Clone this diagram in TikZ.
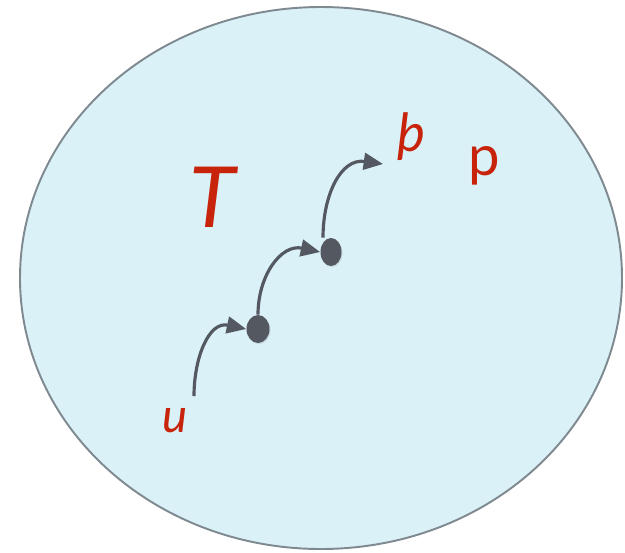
\documentclass[tikz,border=0pt]{standalone}
\usepackage{fontspec}
\setmainfont{Lato}
\usetikzlibrary{arrows.meta,shadows,shapes.geometric}
\definecolor{setfill}{HTML}{DAF1F7}
\definecolor{setline}{HTML}{7F8990}
\definecolor{dotgray}{HTML}{535861}
\definecolor{labelred}{HTML}{C8240C}
\tikzset{
  stepdot/.style={ellipse, fill=dotgray, inner sep=0pt, drop shadow={opacity=0.2, shadow xshift=0.6pt, shadow yshift=-0.6pt}},
  steparrow/.style={draw=dotgray, line width=1.8pt, looseness=1.15, -{Triangle[length=11pt, width=9.5pt]}},
  setlabel/.style={text=labelred, inner sep=0pt}
}
\begin{document}
\begin{tikzpicture}[x=0.02cm, y=-0.02cm]
  \useasboundingbox (0,0) rectangle (625,552);
  % the set
  \draw[fill=setfill, draw=setline, line width=1.1pt] (321,278) ellipse (301 and 271);
  \node[setlabel, font=\fontsize{48}{52}\selectfont\itshape] (setT) at (213,197) {T};
  % vertices
  \node[stepdot, minimum width=0.46cm, minimum height=0.56cm] (v1) at (258,329) {};
  \node[stepdot, minimum width=0.42cm, minimum height=0.56cm] (v2) at (331,252) {};
  \coordinate (start) at (194,396);
  \coordinate (tip) at (383,164);
  % path
  \draw[steparrow] (start) to[out=90, in=168] (v1.west);
  \draw[steparrow] (v1.north) to[out=90, in=168] (v2.west);
  \draw[steparrow] ([xshift=-0.16cm]v2.north) to[out=90, in=172] (tip);
  % labels
  \node[setlabel, font=\fontsize{27}{30}\selectfont\itshape] (u) at (175,421) {u};
  \node[setlabel, font=\fontsize{30}{34}\selectfont\itshape] (thorn) at (411,137) {þ};
  \node[setlabel, font=\fontsize{32}{36}\selectfont] (p) at (484,166) {p};
\end{tikzpicture}
\end{document}
